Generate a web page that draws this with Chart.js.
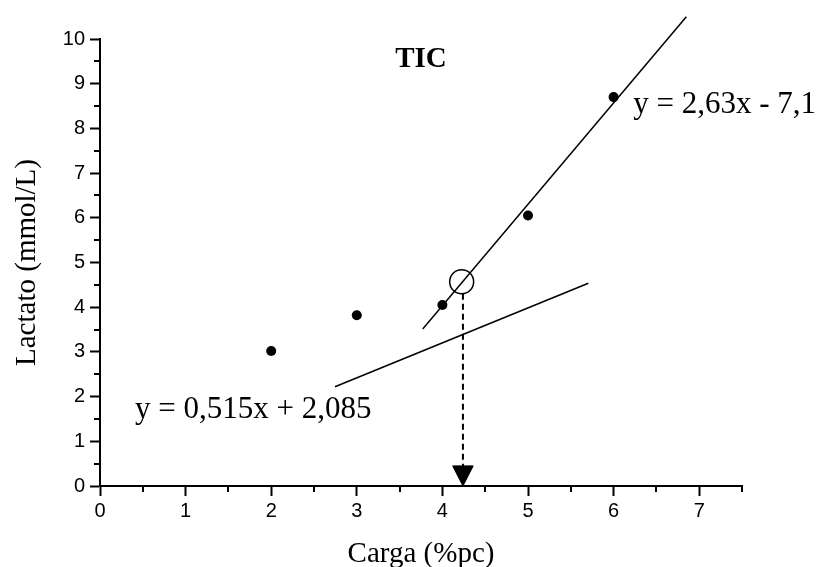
<!DOCTYPE html>
<html>
<head>
<meta charset="utf-8">
<script src="https://cdn.jsdelivr.net/npm/chart.js@4.4.1/dist/chart.umd.min.js"></script>
<style>
  html, body { margin: 0; padding: 0; background: #fff; }
  canvas { display: block; }
</style>
</head>
<body>
<canvas id="chart" width="822" height="567"></canvas>
<script>
// measured points
const loads = [2, 3, 4, 5, 6];
const lactate = [3.02, 3.82, 4.05, 6.05, 8.7];

// regression lines as drawn
const highFitX = [3.77, 6.85];
const highFitY = [3.51, 10.5];
const lowFitX = [2.745, 5.705];
const lowFitY = [2.22, 4.535];

// threshold marker + drop line + arrow head
const thresholdX = [4.225];
const thresholdY = [4.57];
const dropX = [4.24, 4.24];
const dropY = [4.3, 0.45];
const arrowX = [4.12, 4.36, 4.24, 4.12];
const arrowY = [0.45, 0.45, 0, 0.45];

const xTicks = [0, 1, 2, 3, 4, 5, 6, 7];
const yTicks = [0, 1, 2, 3, 4, 5, 6, 7, 8, 9, 10];

const labels = [
    { text: "TIC", x: 3.75, y: 9.37, bold: true, size: 29, align: "center" },
    { text: "y = 2,63x - 7,1", x: 6.23, y: 8.34, bold: false, size: 31, align: "left" },
    { text: "y = 0,515x + 2,085", x: 0.41, y: 1.52, bold: false, size: 31, align: "left" }
];

const toPoints = (xs, ys) => xs.map((x, i) => ({ x: x, y: ys[i] }));

const SERIF = "'Liberation Serif', 'Times New Roman', serif";
const SANS = "'Liberation Sans', Arial, sans-serif";

const minorTicks = {
    id: "minorTicks",
    afterDraw(chart) {
        const ctx = chart.ctx;
        const xs = chart.scales.x;
        const ys = chart.scales.y;
        ctx.save();
        ctx.strokeStyle = "#000";
        ctx.lineWidth = 2;
        ctx.beginPath();
        for (let v = 0.5; v <= xs.max; v += 1) {
            const px = Math.round(xs.getPixelForValue(v));
            ctx.moveTo(px, xs.top);
            ctx.lineTo(px, xs.top + 6);
        }
        for (let v = 0.5; v <= ys.max; v += 1) {
            const py = Math.round(ys.getPixelForValue(v));
            ctx.moveTo(ys.right, py);
            ctx.lineTo(ys.right - 6, py);
        }
        ctx.stroke();
        ctx.restore();
    }
};

const textLabels = {
    id: "textLabels",
    afterDatasetsDraw(chart) {
        const ctx = chart.ctx;
        const xs = chart.scales.x;
        const ys = chart.scales.y;
        ctx.save();
        ctx.fillStyle = "#000";
        ctx.textBaseline = "alphabetic";
        for (let i = 0; i < labels.length; i++) {
            const l = labels[i];
            ctx.font = `${l.bold ? "bold " : ""}${l.size}px ${SERIF}`;
            ctx.textAlign = l.align;
            ctx.fillText(l.text, xs.getPixelForValue(l.x), ys.getPixelForValue(l.y));
        }
        ctx.restore();
    }
};

const chartEle = document.getElementById("chart");

new Chart(chartEle, {
    type: "scatter",
    data: {
        datasets: [{
            label: "Lactato",
            data: toPoints(loads, lactate),
            pointRadius: 5,
            pointBackgroundColor: "#000",
            pointBorderWidth: 0,
            showLine: false,
            order: 1
        }, {
            label: "fit high",
            data: toPoints(highFitX, highFitY),
            showLine: true,
            borderColor: "#000",
            borderWidth: 1.5,
            pointRadius: 0,
            clip: false,
            order: 2
        }, {
            label: "fit low",
            data: toPoints(lowFitX, lowFitY),
            showLine: true,
            borderColor: "#000",
            borderWidth: 1.5,
            pointRadius: 0,
            clip: false,
            order: 2
        }, {
            label: "threshold",
            data: toPoints(thresholdX, thresholdY),
            pointRadius: 12,
            pointBackgroundColor: "rgba(0,0,0,0)",
            pointBorderColor: "#000",
            pointBorderWidth: 1.5,
            showLine: false,
            order: 0
        }, {
            label: "drop",
            data: toPoints(dropX, dropY),
            showLine: true,
            borderColor: "#000",
            borderWidth: 2,
            borderDash: [6, 4],
            pointRadius: 0,
            order: 3
        }, {
            label: "arrow",
            data: toPoints(arrowX, arrowY),
            showLine: true,
            borderColor: "#000",
            backgroundColor: "#000",
            borderWidth: 1,
            fill: "shape",
            pointRadius: 0,
            clip: false,
            order: 3
        }]
    },
    options: {
        responsive: false,
        devicePixelRatio: 1,
        animation: false,
        layout: {
            padding: { top: 39, right: 80, bottom: 0, left: 0 }
        },
        plugins: {
            legend: { display: false },
            tooltip: { enabled: false }
        },
        scales: {
            x: {
                type: "linear",
                position: "bottom",
                min: 0,
                max: 7.5,
                afterBuildTicks: (scale) => {
                    scale.ticks = xTicks.map(v => ({ value: v }));
                },
                afterFit: (scale) => {
                    scale.height = 81;
                },
                ticks: {
                    stepSize: 1,
                    color: "#000",
                    padding: 3,
                    font: { family: SANS, size: 20 }
                },
                grid: {
                    drawOnChartArea: false,
                    drawTicks: true,
                    tickLength: 10,
                    tickWidth: 2,
                    tickColor: "#000"
                },
                border: { color: "#000", width: 2 },
                title: {
                    display: true,
                    text: "Carga (%pc)",
                    color: "#000",
                    font: { family: SERIF, size: 29, lineHeight: 0.9 },
                    padding: { top: 0, bottom: 0 }
                }
            },
            y: {
                type: "linear",
                min: 0,
                max: 10,
                afterBuildTicks: (scale) => {
                    scale.ticks = yTicks.map(v => ({ value: v }));
                },
                afterFit: (scale) => {
                    scale.width = 100;
                },
                ticks: {
                    stepSize: 1,
                    color: "#000",
                    padding: 5,
                    font: { family: SANS, size: 20 }
                },
                grid: {
                    drawOnChartArea: false,
                    drawTicks: true,
                    tickLength: 10,
                    tickWidth: 2,
                    tickColor: "#000"
                },
                border: { color: "#000", width: 2 },
                title: {
                    display: true,
                    text: "Lactato (mmol/L)",
                    color: "#000",
                    font: { family: SERIF, size: 29, lineHeight: 1 },
                    padding: { top: 13, bottom: 0 }
                }
            }
        }
    },
    plugins: [minorTicks, textLabels]
});
</script>
</body>
</html>
